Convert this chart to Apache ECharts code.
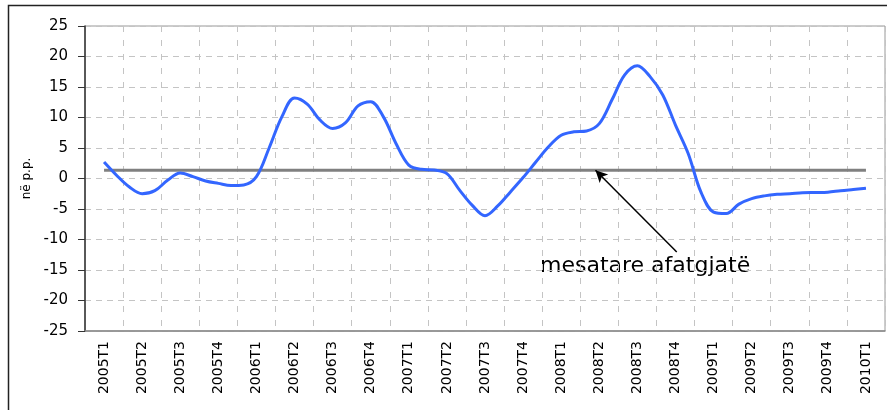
<!DOCTYPE html>
<html>
<head>
<meta charset="utf-8">
<script src="https://cdn.jsdelivr.net/npm/echarts@6/dist/echarts.min.js"></script>
<style>
html,body{margin:0;padding:0;background:#fff;}
#chart{width:887px;height:410px;}
</style>
</head>
<body>
<div id="chart"></div>
<script>
// Quarter tick labels
var quarters = ['2005T1','2005T2','2005T3','2005T4','2006T1','2006T2','2006T3','2006T4',
  '2007T1','2007T2','2007T3','2007T4','2008T1','2008T2','2008T3','2008T4',
  '2009T1','2009T2','2009T3','2009T4','2010T1'];
// Monthly values (3 per quarter), 2005T1 .. 2010T1
var monthly = [
  2.7, 0.5, -1.4, -2.5, -2.0, -0.3, 0.9, 0.3, -0.4, -0.8, -1.15, -1.05,
  0.3, 5.0, 10.1, 13.2, 12.2, 9.6, 8.2, 9.1, 11.9, 12.6, 10.1, 5.7,
  2.2, 1.5, 1.4, 0.8, -1.9, -4.4, -6.1, -4.5, -2.2, 0.15, 2.7, 5.2,
  7.1, 7.65, 7.8, 9.0, 12.9, 17.0, 18.5, 16.7, 13.7, 8.75, 4.1, -2.2,
  -5.5, -5.75, -4.2, -3.3, -2.85, -2.6, -2.5, -2.35, -2.3, -2.25, -2.0, -1.8,
  -1.6
];
// Long-term average
var longTermAverage = 1.35;
var yTicks = { min: -25, max: 25, step: 5 };
var annotationText = 'mesatare afatgjatë';
var yAxisName = 'në p.p.';
// Annotation arrow (data coords: month index, value)
var arrowTail = [45.1, -12.05];
var arrowTip = [38.7, longTermAverage];

var lineData = monthly.map(function (v, i) { return [i, v]; });
var avgData = [[0, longTermAverage], [monthly.length - 1, longTermAverage]];

var chart = echarts.init(document.getElementById('chart'), null, { renderer: 'canvas' });
chart.setOption({
  animation: false,
  backgroundColor: '#fff',
  grid: { left: 85, right: 2, top: 26, bottom: 79, show: true, borderColor: '#999', borderWidth: 1 },
  xAxis: [{
    type: 'category',
    data: quarters,
    boundaryGap: true,
    axisLine: { show: true, onZero: false, lineStyle: { color: '#888', width: 1.5 } },
    axisTick: { show: false },
    axisLabel: { interval: 0, rotate: 90, margin: 10, color: '#000', fontFamily: 'DejaVu Sans', fontSize: 14 },
    splitLine: { show: true, interval: 0, lineStyle: { color: '#c4c4c4', type: [6, 8], width: 1 } }
  }, {
    type: 'value',
    min: -1.5,
    max: monthly.length + 0.5,
    show: false,
    axisLine: { onZero: false },
    splitLine: { show: false }
  }],
  yAxis: {
    type: 'value',
    min: yTicks.min, max: yTicks.max, interval: yTicks.step,
    name: yAxisName,
    nameLocation: 'middle',
    nameRotate: 90,
    nameGap: 52,
    nameTextStyle: { color: '#000', fontFamily: 'DejaVu Sans', fontSize: 12 },
    axisLine: { show: true, onZero: false, lineStyle: { color: '#333', width: 1.5 } },
    axisTick: { show: true, length: 7, lineStyle: { color: '#333' } },
    axisLabel: { margin: 17, color: '#000', fontFamily: 'DejaVu Sans', fontSize: 15 },
    splitLine: { show: true, lineStyle: { color: '#c4c4c4', type: [6, 5], width: 1 } }
  },
  series: [{
    type: 'line',
    name: 'avg',
    xAxisIndex: 1,
    data: avgData,
    symbol: 'none',
    lineStyle: { color: '#808080', width: 3 },
    z: 3,
    markLine: {
      silent: true,
      symbol: ['none', 'arrow'],
      symbolSize: [9, 12],
      label: { show: false },
      lineStyle: { color: '#000', width: 1.5, type: 'solid' },
      data: [[{ coord: arrowTail }, { coord: arrowTip }]]
    }
  }, {
    type: 'line',
    name: 'gap',
    xAxisIndex: 1,
    data: lineData,
    symbol: 'none',
    smooth: 0.35,
    lineStyle: { color: '#3366ff', width: 3 },
    z: 4
  }],
  graphic: [{
    type: 'rect',
    shape: { x: 8.5, y: 5.5, width: 1000, height: 600 },
    style: { fill: 'none', stroke: '#222', lineWidth: 1.5 },
    silent: true
  }, {
    type: 'text',
    x: 540, y: 266,
    style: { text: annotationText, fill: '#000', font: '22px "DejaVu Sans"', textVerticalAlign: 'middle' },
    silent: true
  }]
});
</script>
</body>
</html>
